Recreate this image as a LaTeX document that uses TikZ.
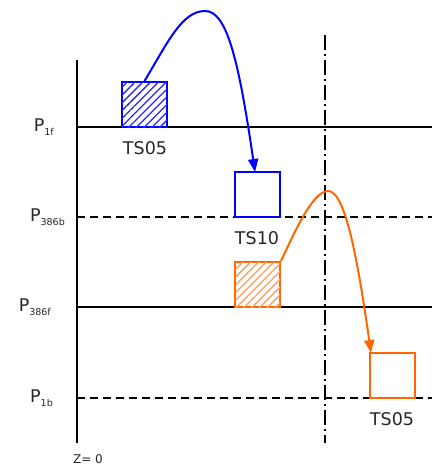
\documentclass[tikz,border=0pt]{standalone}
\usepackage{fontspec}
\setmainfont{DejaVu Sans}
\usetikzlibrary{patterns.meta,arrows.meta}
\definecolor{myblue}{RGB}{0,0,255}
\definecolor{myorange}{RGB}{255,102,0}
\newcommand{\plab}[1]{P\raisebox{-3.5pt}{\fontsize{9.5}{10}\selectfont #1}}
\begin{document}
\begin{tikzpicture}[x=1pt,y=-1pt,
  axisline/.style={line width=2pt,black},
  level/.style={line width=2pt,black},
  dlevel/.style={line width=2pt,black,dash pattern=on 8pt off 5pt},
  dashdot/.style={line width=2pt,black,dash pattern=on 15pt off 4pt on 2pt off 4pt},
  box/.style={draw,line width=2pt,minimum width=45pt,minimum height=45pt,inner sep=0pt,fill=white},
  bluebox/.style={box,draw=myblue},
  orangebox/.style={box,draw=myorange},
  bluehatch/.style={bluebox,postaction={pattern={Lines[angle=45,distance=5.5pt,line width=1.3pt]},pattern color=myblue!85}},
  orangehatch/.style={orangebox,postaction={pattern={Lines[angle=45,distance=5.5pt,line width=1.3pt]},pattern color=myorange!65}},
  lbl/.style={font=\fontsize{17.5}{20}\selectfont,text=black!85,inner sep=0pt},
  arr/.style={line width=2pt,-{Triangle[length=13pt,width=10pt]}}
]
\useasboundingbox (0,0) rectangle (432,466);
% axis
\coordinate (ax0) at (77,60);
\coordinate (ax1) at (77,443);
\draw[axisline] (ax0) -- (ax1);
% levels
\coordinate (l1a) at (77,127); \coordinate (l1b) at (432,127);
\coordinate (l2a) at (77,217); \coordinate (l2b) at (432,217);
\coordinate (l3a) at (77,307); \coordinate (l3b) at (432,307);
\coordinate (l4a) at (77,398); \coordinate (l4b) at (432,398);
\draw[level] (l1a) -- (l1b);
\draw[dlevel] (l2a) -- (l2b);
\draw[level] (l3a) -- (l3b);
\draw[dlevel] (l4a) -- (l4b);
% dash-dot
\coordinate (dd0) at (325,35);
\coordinate (dd1) at (325,443);
\draw[dashdot] (dd0) -- (dd1);
% labels
\node[lbl,anchor=east] (p1f) at (54,127) {\plab{1f}};
\node[lbl,anchor=east] (p386b) at (65,217) {\plab{386b}};
\node[lbl,anchor=east] (p386f) at (51,307) {\plab{386f}};
\node[lbl,anchor=east] (p1b) at (53,398) {\plab{1b}};
\node[font=\fontsize{12}{14}\selectfont,text=black!85,inner sep=0pt] (z0) at (88,459) {Z= 0};
% boxes
\node[bluehatch] (b1) at (144.5,104.5) {};
\node[bluebox] (b2) at (257.5,194.5) {};
\node[orangehatch] (o1) at (257.5,284.5) {};
\node[orangebox] (o2) at (392.5,375.5) {};
\node[lbl] (t1) at (145,148) {TS05};
\node[lbl] (t2) at (257,238) {TS10};
\node[lbl] (t3) at (392,419) {TS05};
% arrows
\coordinate (bp) at (205,11);
\coordinate (be) at (255,172);
\draw[arr,myblue] (b1.north) .. controls (168,42) and (182,11) .. (bp)
  .. controls (226,11) and (238,55) .. (be);
\coordinate (op) at (328,191);
\coordinate (oe) at (371,353);
\draw[arr,myorange] (o1.north east) .. controls (292,238) and (312,191) .. (op)
  .. controls (343,191) and (355,240) .. (oe);
\end{tikzpicture}
\end{document}
